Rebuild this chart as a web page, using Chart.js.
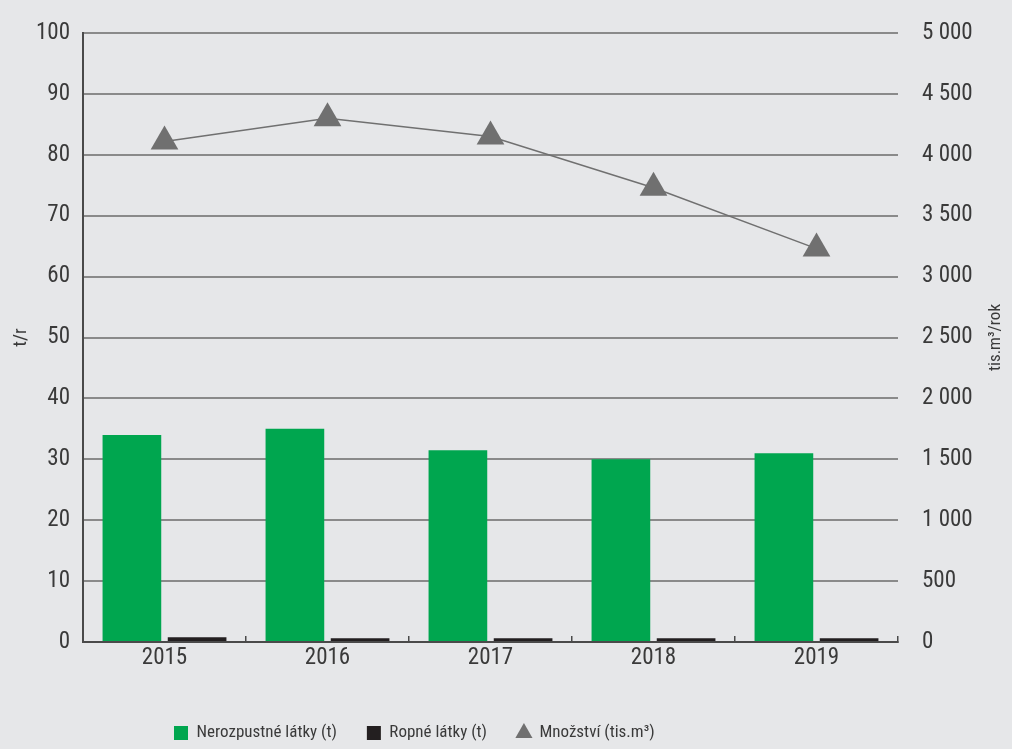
<!DOCTYPE html>
<html lang="cs">
<head>
<meta charset="utf-8">
<title>Nerozpustné a ropné látky</title>
<script src="https://cdn.jsdelivr.net/npm/chart.js@4.4.1/dist/chart.umd.min.js"></script>
<style>
  html, body { margin: 0; padding: 0; background: #e6e7e9; }
  #cntr { width: 1012px; height: 749px; }
</style>
</head>
<body>
<div id="cntr"><canvas id="myChart"></canvas></div>
<script>
// Roky
const roky = ['2015', '2016', '2017', '2018', '2019'];
// Nerozpustné látky (t)
const nerozpustne = [34, 35, 31.5, 30, 31];
// Ropné látky (t)
const ropne = [0.8, 0.6, 0.6, 0.6, 0.6];
// Množství (tis.m3)
const mnozstvi = [4110, 4300, 4150, 3730, 3230];

const pismo = "'Roboto Condensed', 'Liberation Sans Narrow', 'DejaVu Sans Condensed', sans-serif";
const sedaText = '#3a3a3a';
const velikostLegendy = 17;
const mezeraLegendy = 30;

// 5000 -> "5 000"
function tisice(v) {
  return String(v).replace(/\B(?=(\d{3})+(?!\d))/g, ' ');
}

// popisek prave osy, cte se zdola nahoru
const titulekVpravo = {
  id: 'titulekVpravo',
  afterDraw(chart) {
    const ctx = chart.ctx;
    const a = chart.chartArea;
    ctx.save();
    ctx.translate(996, (a.top + a.bottom) / 2);
    ctx.rotate(-Math.PI / 2);
    ctx.font = velikostLegendy + 'px ' + pismo;
    ctx.fillStyle = sedaText;
    ctx.textAlign = 'center';
    ctx.textBaseline = 'middle';
    ctx.fillText('tis.m³/rok', 0, 0);
    ctx.restore();
  }
};

// legenda je vlevo od stredu a dole u okraje
const posunLegendy = {
  id: 'posunLegendy',
  afterLayout(chart) {
    chart.legend.left = 174 - mezeraLegendy;
    chart.legend.top = 733 - mezeraLegendy - velikostLegendy / 2;
  }
};

// svisle osy: pevna sirka, bez vlastniho odsazeni nahore
function pevnaSirka(sirka) {
  return s => {
    s.width = sirka;
    s.paddingTop = 0;
    s.paddingBottom = 0;
  };
}

const ctx = document.getElementById('myChart');
new Chart(ctx, {
  type: 'bar',
  data: {
    labels: roky,
    datasets: [{
      label: 'Nerozpustné látky (t)',
      data: nerozpustne,
      backgroundColor: '#00a64f',
      pointStyle: 'rect',
      yAxisID: 'y',
      categoryPercentage: 0.8,
      barPercentage: 0.9
    }, {
      label: 'Ropné látky (t)',
      data: ropne,
      backgroundColor: '#231f20',
      pointStyle: 'rect',
      yAxisID: 'y',
      categoryPercentage: 0.8,
      barPercentage: 0.9
    }, {
      type: 'line',
      label: 'Množství (tis.m³)',
      data: mnozstvi,
      yAxisID: 'y1',
      borderColor: '#707070',
      borderWidth: 1.5,
      pointStyle: 'triangle',
      pointRadius: 16,
      pointBackgroundColor: '#707070',
      pointBorderWidth: 0
    }]
  },
  options: {
    responsive: true,
    maintainAspectRatio: false,
    animation: false,
    events: [],
    layout: { padding: { top: 33, left: 0, right: 0, bottom: 0 } },
    plugins: {
      tooltip: { enabled: false },
      legend: {
        position: 'bottom',
        align: 'start',
        labels: {
          usePointStyle: true,
          boxWidth: 14,
          boxHeight: 14,
          padding: mezeraLegendy,
          color: sedaText,
          font: { family: pismo, size: velikostLegendy }
        }
      }
    },
    scales: {
      x: {
        grid: {
          display: true,
          drawOnChartArea: false,
          drawTicks: true,
          tickLength: -6,
          offset: true,
          color: '#4a4a4a',
          lineWidth: 1.5
        },
        border: { display: true, color: '#4a4a4a', width: 2 },
        ticks: { color: sedaText, padding: 8, font: { family: pismo, size: 23 } },
        afterFit(s) { s.height = s.chart.height - s.chart.legend.height - 642; }
      },
      y: {
        position: 'left',
        min: 0,
        max: 100,
        ticks: { stepSize: 10, padding: 13, color: sedaText, font: { family: pismo, size: 23 } },
        grid: { color: '#8a8a8a', lineWidth: 2, drawTicks: false },
        border: { display: true, color: '#4a4a4a', width: 2 },
        title: {
          display: true,
          text: 't/r',
          color: sedaText,
          font: { family: pismo, size: 19 },
          padding: { top: 10, bottom: 0 }
        },
        afterFit: pevnaSirka(83)
      },
      y1: {
        position: 'right',
        min: 0,
        max: 5000,
        ticks: {
          stepSize: 500,
          padding: 24,
          color: sedaText,
          font: { family: pismo, size: 23 },
          callback: v => tisice(v)
        },
        grid: { display: false, drawTicks: false },
        border: { display: false },
        afterFit: pevnaSirka(114)
      }
    }
  },
  plugins: [titulekVpravo, posunLegendy]
});
</script>
</body>
</html>
